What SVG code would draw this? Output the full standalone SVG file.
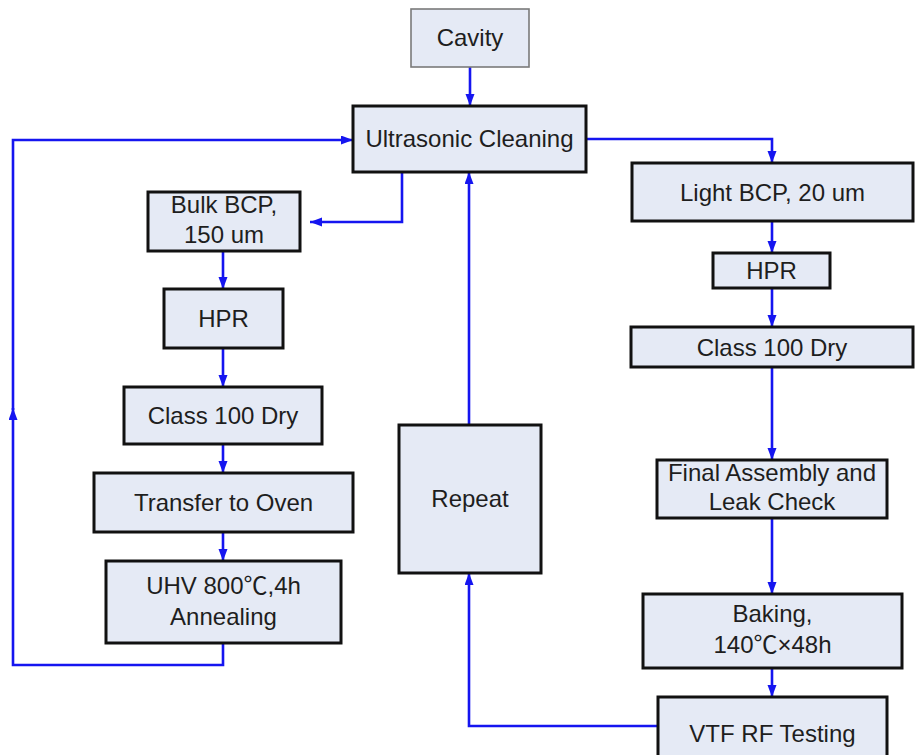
<svg xmlns="http://www.w3.org/2000/svg" width="915" height="755" viewBox="0 0 915 755">
<style>
.box{fill:#e5eaf5;stroke:#111;stroke-width:3}
.gbox{fill:#e5eaf5;stroke:#7a7a7a;stroke-width:1.6}
.t{font-family:"Liberation Sans","Noto Sans CJK SC",Arial,sans-serif;font-size:24px;fill:#1e1e1e;text-anchor:middle}
.c{fill:none;stroke:#1515f0;stroke-width:2.6;marker-end:url(#ah)}
.cn{fill:none;stroke:#1515f0;stroke-width:2.6}
</style>
<defs>
<marker id="ah" markerUnits="userSpaceOnUse" markerWidth="13" markerHeight="10" refX="12" refY="4.5" orient="auto">
<path d="M0,0 L12,4.5 L0,9 z" fill="#1515f0"/>
</marker>
</defs>
<rect width="915" height="755" fill="#fff"/>
<g id="connectors">
<path class="c" d="M470,67 V106"/>
<path class="c" d="M402,172 V222 H310"/>
<path class="c" d="M223,251 V289"/>
<path class="c" d="M223,348 V387"/>
<path class="c" d="M223,444 V473"/>
<path class="c" d="M223,532 V561"/>
<path class="c" d="M223,643 V665 H13 V408"/>
<path class="c" d="M13,410 V140 H353"/>
<path class="c" d="M586,139 H772 V163"/>
<path class="c" d="M772,221 V253"/>
<path class="c" d="M772,288 V327"/>
<path class="c" d="M772,367 V460"/>
<path class="c" d="M772,518 V594"/>
<path class="c" d="M772,668 V697"/>
<path class="c" d="M658,726 H469 V573"/>
<path class="c" d="M469,425 V172"/>
</g>
<g id="cavity"><rect class="gbox" x="411" y="9" width="118" height="58"/><text class="t" x="470" y="46">Cavity</text></g>
<g id="ultrasonic"><rect class="box" x="353" y="106" width="233" height="66"/><text class="t" x="469.5" y="147">Ultrasonic Cleaning</text></g>
<g id="bulkbcp"><rect class="box" x="148" y="192" width="152" height="59"/><text class="t" x="224" y="213">Bulk BCP,</text><text class="t" x="224" y="243">150 um</text></g>
<g id="hpr-left"><rect class="box" x="164" y="289" width="119" height="59"/><text class="t" x="223.5" y="327">HPR</text></g>
<g id="class100-left"><rect class="box" x="124" y="387" width="198" height="57"/><text class="t" x="223" y="424">Class 100 Dry</text></g>
<g id="transfer"><rect class="box" x="94" y="473" width="259" height="59"/><text class="t" x="223.5" y="511">Transfer to Oven</text></g>
<g id="annealing"><rect class="box" x="106" y="561" width="235" height="82"/><text class="t" x="223.5" y="594">UHV 800℃,4h</text><text class="t" x="223.5" y="625">Annealing</text></g>
<g id="repeat"><rect class="box" x="399" y="425" width="142" height="148"/><text class="t" x="470" y="507">Repeat</text></g>
<g id="lightbcp"><rect class="box" x="632" y="163" width="281" height="58"/><text class="t" x="772.5" y="201">Light BCP, 20 um</text></g>
<g id="hpr-right"><rect class="box" x="713" y="253" width="117" height="35"/><text class="t" x="771.5" y="279">HPR</text></g>
<g id="class100-right"><rect class="box" x="631" y="327" width="282" height="40"/><text class="t" x="772" y="356">Class 100 Dry</text></g>
<g id="final-assembly"><rect class="box" x="657" y="460" width="230" height="58"/><text class="t" x="772" y="481">Final Assembly and</text><text class="t" x="772" y="510">Leak Check</text></g>
<g id="baking"><rect class="box" x="643" y="594" width="259" height="74"/><text class="t" x="772.5" y="622">Baking,</text><text class="t" x="772.5" y="653">140℃×48h</text></g>
<g id="vtf"><rect class="box" x="658" y="697" width="229" height="64"/><text class="t" x="772.5" y="742">VTF RF Testing</text></g>
</svg>
